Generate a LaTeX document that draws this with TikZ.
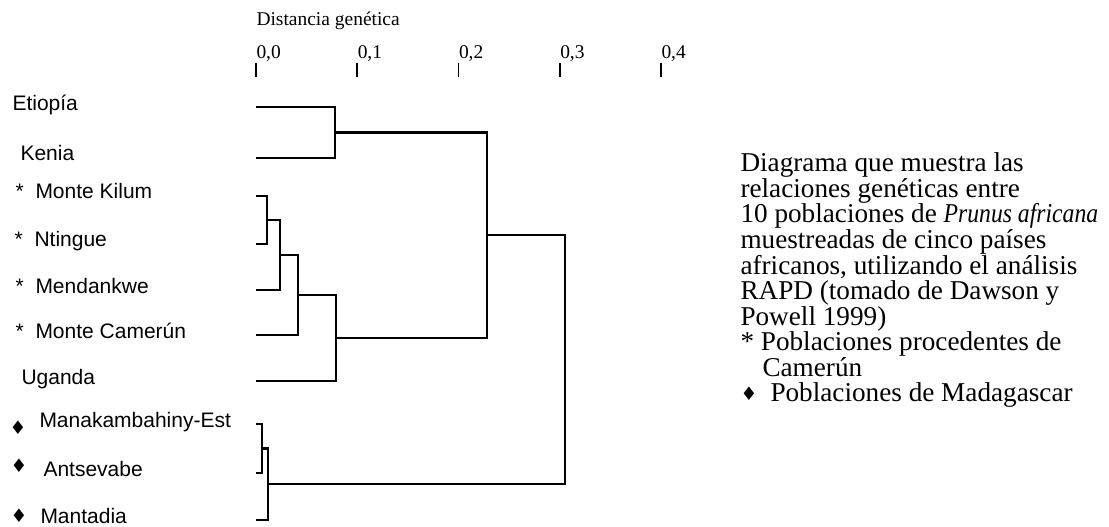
\documentclass[tikz,border=0pt]{standalone}
\usepackage{fontspec}
\setmainfont{Liberation Serif}
\setsansfont{Liberation Sans}
\newfontfamily\suitfont{DejaVu Sans}

\tikzset{every picture/.style={line width=0.75pt}}
\tikzset{
  branch/.style={line width=1.6pt},
  tickline/.style={line width=1.2pt},
  scalelabel/.style={anchor=base west,inner sep=0pt,font=\fontsize{14.6}{16}\selectfont},
  poplabel/.style={anchor=base west,inner sep=0pt,font=\sffamily\fontsize{15.75}{18}\selectfont},
  suit/.style={anchor=center,inner sep=0pt,font=\suitfont\fontsize{14}{16}\selectfont},
  infotext/.style={anchor=base west,inner sep=0pt,font=\fontsize{20.4}{20}\selectfont},
}

\begin{document}
\begin{tikzpicture}[x=0.75pt,y=0.75pt,yscale=-1,xscale=1]
\useasboundingbox (0,0) rectangle (1109,527);

% Text Node
\node [scalelabel] (axtitle) at (256,26) {Distancia genética};

%Straight Lines (scale ticks)
\coordinate (t0) at (256,63);    \coordinate (b0) at (256,77);
\coordinate (t1) at (357.25,63); \coordinate (b1) at (357.25,77);
\coordinate (t2) at (458.5,63);  \coordinate (b2) at (458.5,77);
\coordinate (t3) at (559.75,63); \coordinate (b3) at (559.75,77);
\coordinate (t4) at (661,63);    \coordinate (b4) at (661,77);
\draw [tickline] (t0) -- (b0);
\draw [tickline] (t1) -- (b1);
\draw [tickline] (t2) -- (b2);
\draw [tickline] (t3) -- (b3);
\draw [tickline] (t4) -- (b4);

% Text Node
\node [scalelabel] (s0) at (256,59) {0,0};
\node [scalelabel] (s1) at (357.25,59) {0,1};
\node [scalelabel] (s2) at (458.5,59) {0,2};
\node [scalelabel] (s3) at (559.75,59) {0,3};
\node [scalelabel] (s4) at (661,59) {0,4};

% leaf ends
\coordinate (etio) at (256,107);
\coordinate (keni) at (256,158);
\coordinate (kilu) at (256,196);
\coordinate (ntin) at (256,244);
\coordinate (mend) at (256,290);
\coordinate (mcam) at (256,335);
\coordinate (ugan) at (256,381);
\coordinate (mana) at (256,424);
\coordinate (ants) at (256,473);
\coordinate (mant) at (256,520);

% joins
\coordinate (jEK) at (335,132.5);
\coordinate (jKN) at (267,220);
\coordinate (jKNM) at (280,255);
\coordinate (jC) at (298,295);
\coordinate (jU) at (336,338);
\coordinate (jA) at (487,235);
\coordinate (jMA) at (262,448.5);
\coordinate (jMAD) at (268,484);
\coordinate (jR) at (565,359.5);

%Straight Lines (tree)
\draw [branch] (etio) -| (jEK) |- (keni);
\draw [branch] (kilu) -| (jKN) |- (ntin);
\draw [branch] (jKN) -| (jKNM) |- (mend);
\draw [branch] (jKNM) -| (jC) |- (mcam);
\draw [branch] (jC) -| (jU) |- (ugan);
\draw [branch] (jEK) -| (jA) |- (jU);
\draw [branch] (mana) -| (jMA) |- (ants);
\draw [branch] (jMA) -| (jMAD) |- (mant);
\draw [branch] (jA) -| (jR) |- (jMAD);

% Text Node
\node [poplabel] (lEtio) at (12,111) {Etiopía};
\node [poplabel] (lKeni) at (20,161) {Kenia};
\node [poplabel] (sKilu) at (15,199) {*};
\node [poplabel] (lKilu) at (35,199) {Monte Kilum};
\node [poplabel] (sNtin) at (14,247) {*};
\node [poplabel] (lNtin) at (34,247) {Ntingue};
\node [poplabel] (sMend) at (15,293) {*};
\node [poplabel] (lMend) at (35,293) {Mendankwe};
\node [poplabel] (sMcam) at (15,338) {*};
\node [poplabel] (lMcam) at (35,338) {Monte Camerún};
\node [poplabel] (lUgan) at (21,384) {Uganda};
\node [suit] (dMana) at (18,428) {♦};
\node [poplabel] (lMana) at (39,427) {Manakambahiny-Est};
\node [suit] (dAnts) at (19,466) {♦};
\node [poplabel] (lAnts) at (43,476) {Antsevabe};
\node [suit] (dMant) at (19,516) {♦};
\node [poplabel] (lMant) at (40,523) {Mantadia};

% Text Node
\node [infotext] (info1) at (740,172) {Diagrama que muestra las};
\node [infotext] (info2) at (740,197.5) {relaciones genéticas entre};
\node [infotext] (info3) at (740,223) {10 poblaciones de \scalebox{0.87}[1]{\textit{Prunus africana}}};
\node [infotext] (info4) at (740,248.5) {muestreadas de cinco países};
\node [infotext] (info5) at (740,274) {africanos, utilizando el análisis};
\node [infotext] (info6) at (740,299.5) {RAPD (tomado de Dawson y};
\node [infotext] (info7) at (740,325) {Powell 1999)};
\node [infotext] (info8) at (740,350.5) {* Poblaciones procedentes de};
\node [infotext] (info9) at (762,376) {Camerún};
\node [suit] (dInfo) at (749,394) {♦};
\node [infotext] (info10) at (770,401.5) {Poblaciones de Madagascar};

\end{tikzpicture}
\end{document}
